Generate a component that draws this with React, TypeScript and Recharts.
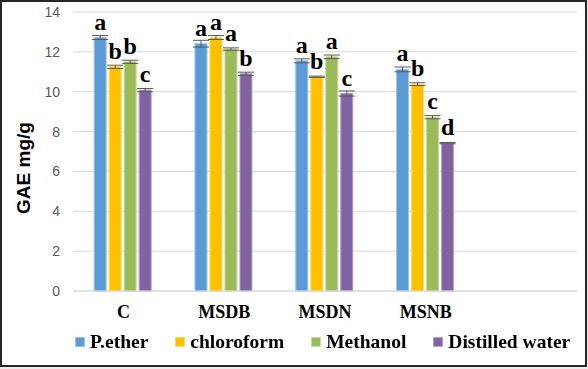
import React from 'react';
import { BarChart, Bar, XAxis, YAxis, CartesianGrid, Legend, ErrorBar, LabelList } from 'recharts';

const categories = ['C', 'MSDB', 'MSDN', 'MSNB', ''];
const petherValues = [12.72, 12.41, 11.55, 11.12, null];
const chloroformValues = [11.25, 12.72, 10.75, 10.38, null];
const methanolValues = [11.5, 12.14, 11.75, 8.72, null];
const waterValues = [10.08, 10.9, 9.91, 7.42, null];
const petherErrors = [0.1, 0.17, 0.1, 0.12, null];
const chloroformErrors = [0.08, 0.1, 0.03, 0.07, null];
const methanolErrors = [0.08, 0.06, 0.09, 0.08, null];
const waterErrors = [0.08, 0.08, 0.13, 0.03, null];
const petherLetters = ['a', 'a', 'a', 'a', ''];
const chloroformLetters = ['b', 'a', 'b', 'b', ''];
const methanolLetters = ['b', 'a', 'a', 'c', ''];
const waterLetters = ['c', 'b', 'c', 'd', ''];
const yTicks = [0, 2, 4, 6, 8, 10, 12, 14];

const series = [
  { key: 'pether', name: 'P.ether', color: '#5B9BD5', edge: '#9DC3E6' },
  { key: 'chloroform', name: 'chloroform', color: '#FFC000', edge: '#FFD966' },
  { key: 'methanol', name: 'Methanol', color: '#9BBB59', edge: '#C5D9A0' },
  { key: 'water', name: 'Distilled water', color: '#8064A2', edge: '#B4A2CB' },
];

const data = categories.map((c, i) => ({
  cat: c,
  pether: petherValues[i],
  chloroform: chloroformValues[i],
  methanol: methanolValues[i],
  water: waterValues[i],
  pether_err: petherErrors[i],
  chloroform_err: chloroformErrors[i],
  methanol_err: methanolErrors[i],
  water_err: waterErrors[i],
  pether_lbl: petherLetters[i],
  chloroform_lbl: chloroformLetters[i],
  methanol_lbl: methanolLetters[i],
  water_lbl: waterLetters[i],
}));

const serif = '"Liberation Serif", "Times New Roman", serif';
const sans = '"Liberation Sans", Arial, sans-serif';

const renderLegend = () => (
  <div style={{ display: 'flex', alignItems: 'center', fontFamily: serif, fontWeight: 700, fontSize: 19.5, color: '#000', whiteSpace: 'nowrap' }}>
    {series.map((s) => (
      <div key={s.key} style={{ display: 'flex', alignItems: 'center', marginRight: 27 }}>
        <span style={{ display: 'inline-block', width: 8, height: 8, background: s.color, border: `1px solid ${s.edge}`, marginRight: 5 }} />
        <span>{s.name}</span>
      </div>
    ))}
  </div>
);

export default function App() {
  return (
    <div style={{ position: 'fixed', left: 0, top: 0, width: 588, height: 369, background: '#fff' }}>
      <div style={{ position: 'absolute', left: 0, top: 0, width: 588, height: 369, background: '#ececec' }} />
      <div style={{ position: 'absolute', left: 0, top: 0, width: 587, height: 367, boxSizing: 'border-box', border: '2px solid #262626', background: '#fff' }} />
      <div style={{ position: 'absolute', left: 0, top: 0 }}>
        <BarChart
          width={588}
          height={369}
          data={data}
          margin={{ top: 12, right: 11, left: 0, bottom: 0 }}
          barCategoryGap="21%"
          barGap={3}
        >
          <CartesianGrid vertical={false} stroke="#D9D9D9" strokeWidth={1} />
          <XAxis
            dataKey="cat"
            axisLine={{ stroke: '#D9D9D9' }}
            tickLine={false}
            height={78}
            tickMargin={8}
            tick={{ fontFamily: serif, fontWeight: 700, fontSize: 18, fill: '#000' }}
            interval={0}
          />
          <YAxis
            domain={[0, 14]}
            ticks={yTicks}
            width={73}
            axisLine={false}
            tickLine={false}
            tickMargin={7}
            tick={{ fontFamily: sans, fontSize: 14, fill: '#595959' }}
            label={{
              content: () => (
                <text
                  transform="translate(23,168) rotate(-90)"
                  textAnchor="middle"
                  dominantBaseline="central"
                  style={{ fontFamily: sans, fontWeight: 700, fontSize: 19, fill: '#000' }}
                >
                  GAE mg/g
                </text>
              ),
            }}
          />
          <Legend
            layout="horizontal"
            verticalAlign="middle"
            align="center"
            wrapperStyle={{ top: 331, left: 75, width: 520 }}
            content={renderLegend}
          />
          {series.map((s) => (
            <Bar key={s.key} dataKey={s.key} name={s.name} fill={s.color} stroke={s.edge} strokeWidth={1} isAnimationActive={false}>
              <ErrorBar dataKey={`${s.key}_err`} width={8} stroke="#595959" strokeWidth={1} direction="y" />
              <LabelList
                dataKey={`${s.key}_lbl`}
                position="top"
                offset={8}
                style={{ fontFamily: serif, fontWeight: 700, fontSize: 24, fill: '#000' }}
              />
            </Bar>
          ))}
        </BarChart>
      </div>
    </div>
  );
}
